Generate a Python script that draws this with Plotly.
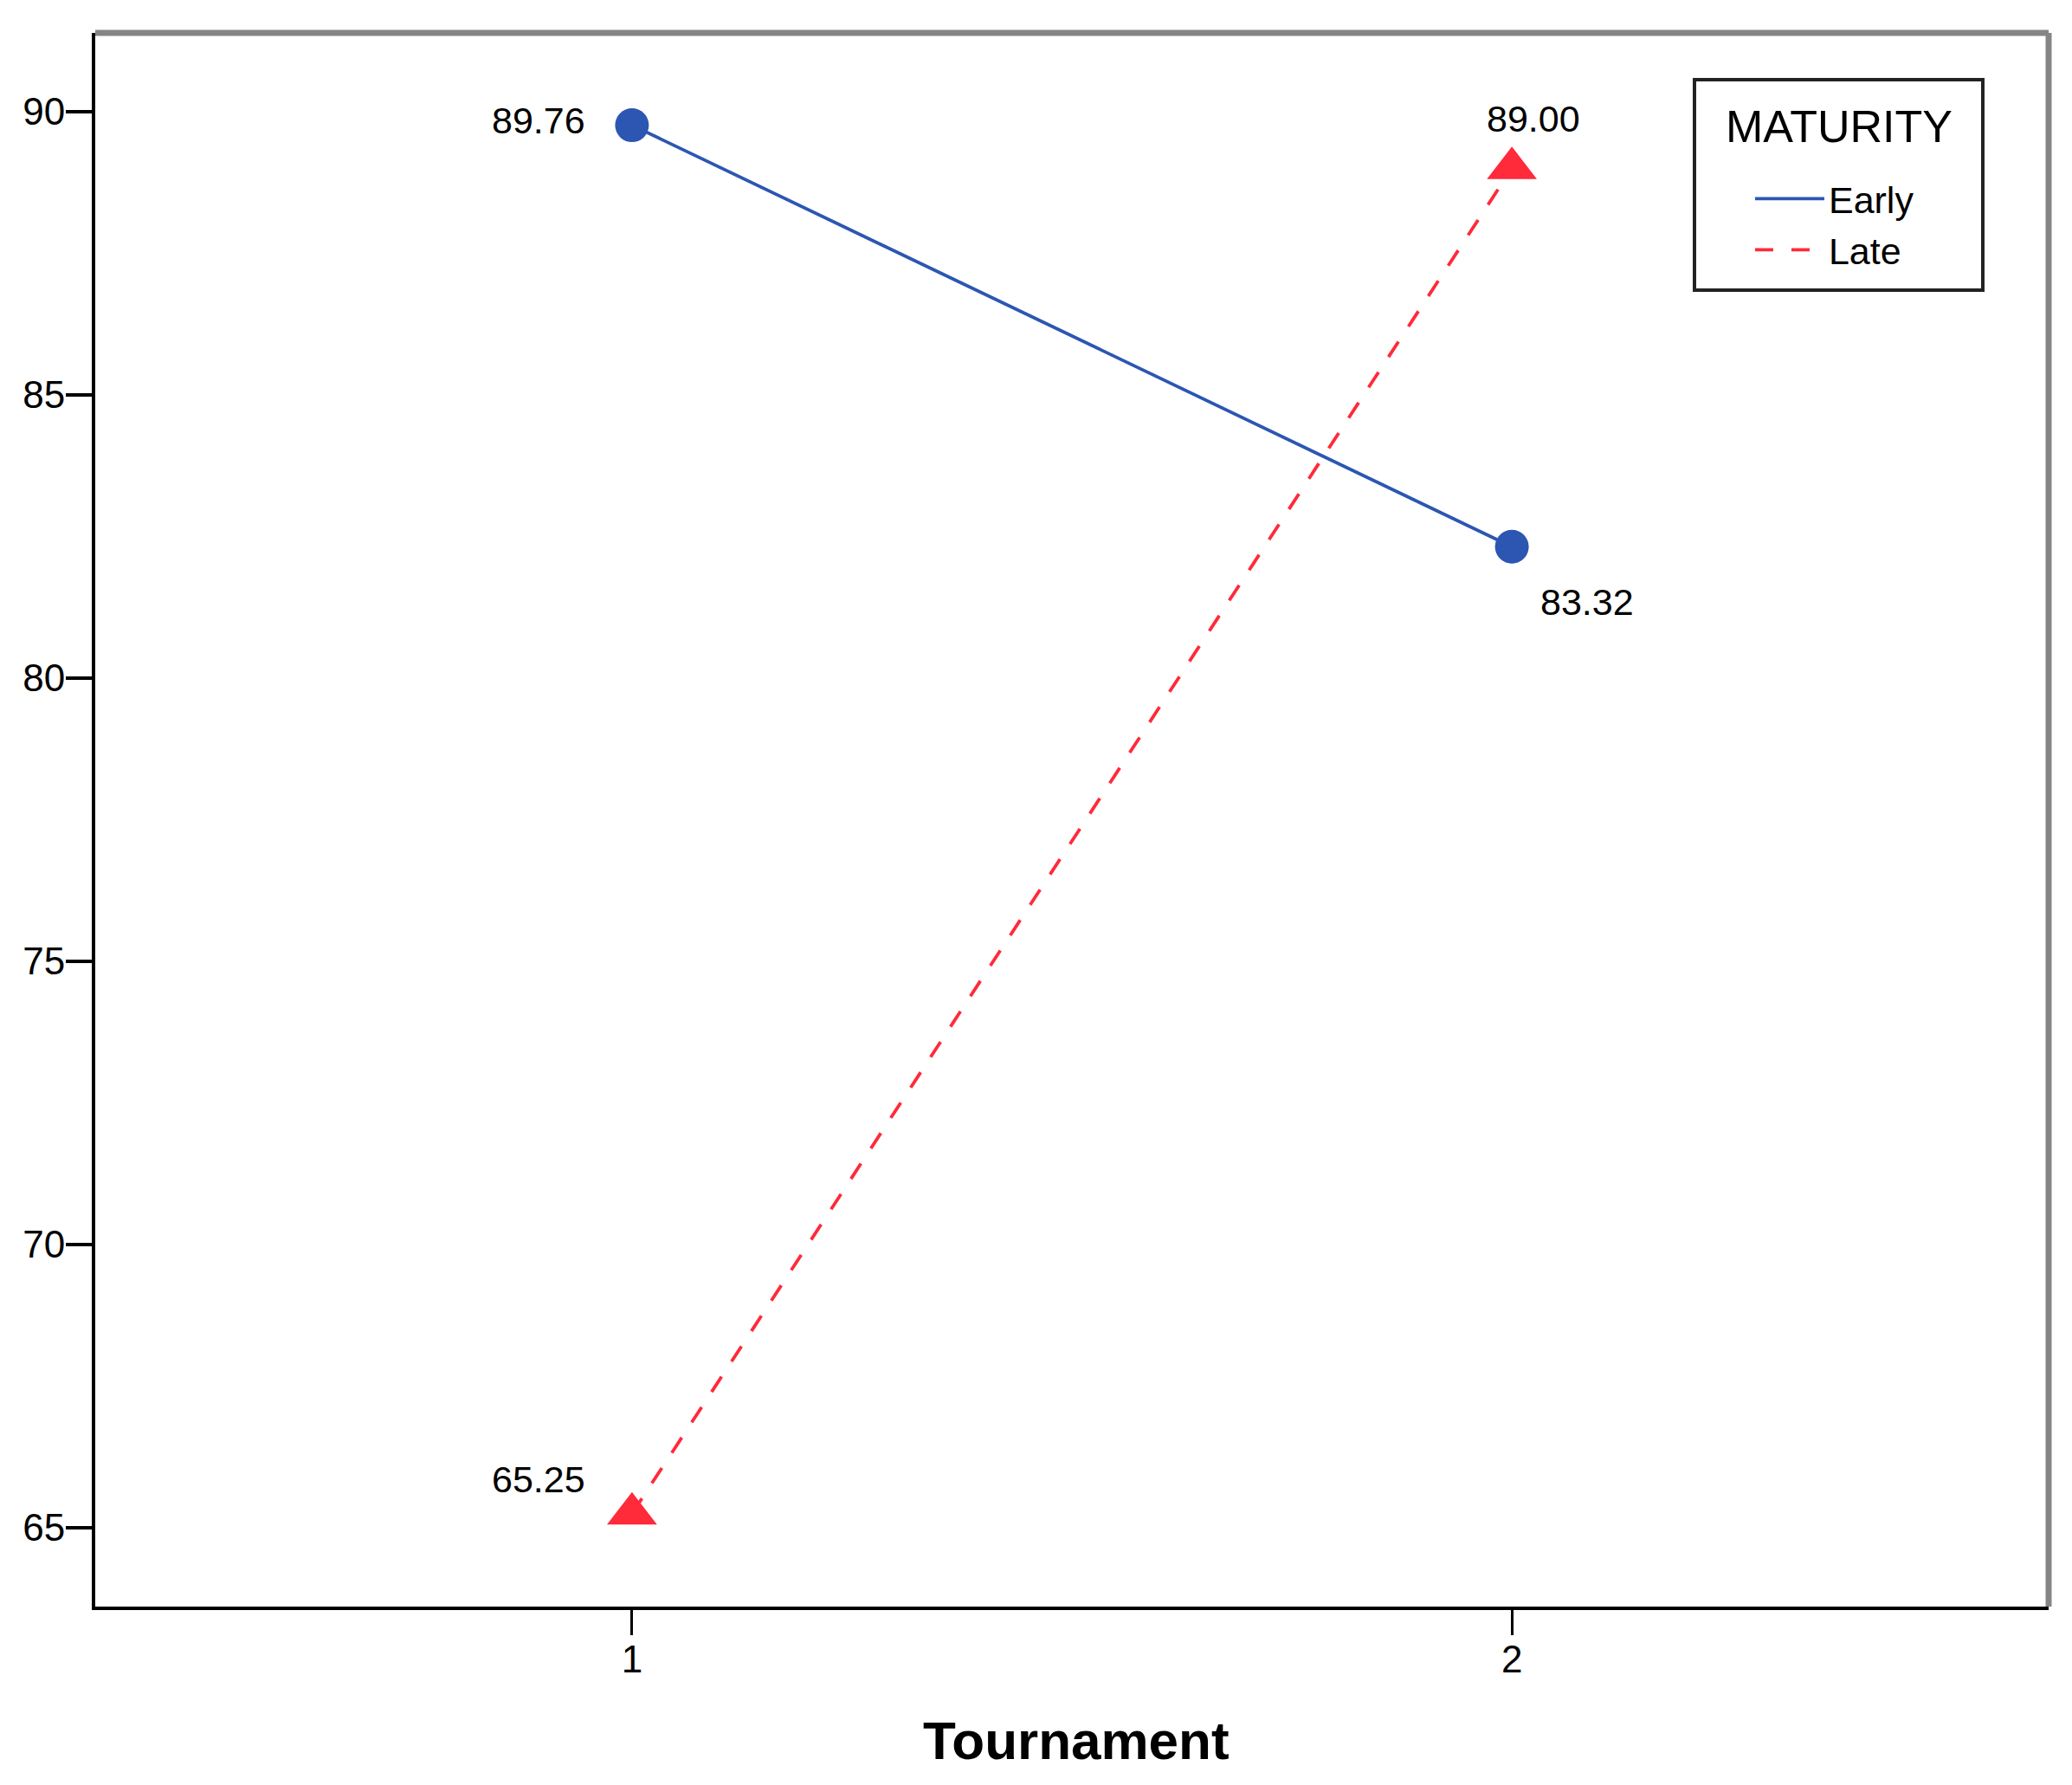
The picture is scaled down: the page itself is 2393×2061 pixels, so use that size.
import plotly.graph_objects as go

# ---- data ----
tournament = [1, 2]
early = [89.76, 82.32]
late = [65.25, 89.00]
early_labels = ["89.76", "83.32"]
late_labels = ["65.25", "89.00"]
y_ticks = [65, 70, 75, 80, 85, 90]
x_ticks = [1, 2]
x_tick_text = ["1", "2"]
legend_title = "MATURITY"

# ---- styles ----
BLUE = "#2C56B2"
RED = "#FF2A3A"
FONT = "Liberation Sans, Arial, sans-serif"
early_shift = [(-108, 6), (87, -64)]
late_shift = [(-108, 40), (25, 57)]

fig = go.Figure()

fig.add_trace(go.Scatter(x=tournament, y=early, mode="lines", name="Early",
                         line=dict(color=BLUE, width=3.8)))
fig.add_trace(go.Scatter(x=tournament, y=late, mode="lines", name="Late",
                         line=dict(color=RED, width=3.8, dash="21px,21px")))
fig.add_trace(go.Scatter(x=tournament, y=early, mode="markers", showlegend=False,
                         marker=dict(symbol="circle", size=39, color=BLUE)))
fig.add_trace(go.Scatter(x=tournament, y=late, mode="markers", showlegend=False,
                         marker=dict(symbol="triangle-up", size=50, color=RED)))

annotations = []
for xv, yv, txt, (dx, dy) in zip(tournament, early, early_labels, early_shift):
    annotations.append(dict(x=xv, y=yv, xref="x", yref="y", text=txt, showarrow=False,
                            xanchor="center", yanchor="middle", xshift=dx, yshift=dy,
                            font=dict(size=43, color="black", family=FONT)))
for xv, yv, txt, (dx, dy) in zip(tournament, late, late_labels, late_shift):
    annotations.append(dict(x=xv, y=yv, xref="x", yref="y", text=txt, showarrow=False,
                            xanchor="center", yanchor="middle", xshift=dx, yshift=dy,
                            font=dict(size=43, color="black", family=FONT)))
annotations.append(dict(x=0.502, y=-0.0853, xref="paper", yref="paper", text="<b>Tournament</b>",
                        showarrow=False, xanchor="center", yanchor="middle",
                        font=dict(size=62, color="black", family=FONT)))
annotations.append(dict(x=0.8927, y=0.9406, xref="paper", yref="paper", text=legend_title,
                        showarrow=False, xanchor="center", yanchor="middle",
                        font=dict(size=52, color="black", family=FONT)))

fig.update_layout(
    width=2393, height=2061,
    margin=dict(l=110, r=27, t=38, b=206, pad=0),
    paper_bgcolor="white", plot_bgcolor="white",
    font=dict(family=FONT, color="black"),
    showlegend=True,
    legend=dict(x=0.8475, y=0.9136, xanchor="left", yanchor="top",
                bgcolor="rgba(0,0,0,0)", borderwidth=0,
                font=dict(size=43, family=FONT, color="black"),
                itemwidth=80, tracegroupgap=0),
    annotations=annotations,
    shapes=[
        dict(type="line", xref="paper", yref="paper", x0=0, x1=1, y0=1, y1=1,
             line=dict(color="#858585", width=7)),
        dict(type="line", xref="paper", yref="paper", x0=1, x1=1, y0=0, y1=1,
             line=dict(color="#858585", width=7)),
        dict(type="rect", xref="paper", yref="paper", x0=0.8187, x1=0.9663,
             y0=0.8365, y1=0.9703, line=dict(color="#222222", width=4),
             fillcolor="white", layer="below"),
    ],
)

fig.update_xaxes(range=[0.39, 2.61], tickvals=x_ticks, ticktext=x_tick_text,
                 ticks="outside", ticklen=29, tickwidth=3, tickcolor="black",
                 ticklabelstandoff=-10,
                 showgrid=False, zeroline=False, showline=True, linecolor="black",
                 linewidth=4, tickfont=dict(size=44, family=FONT, color="black"))
fig.update_yaxes(range=[63.61, 91.39], tickvals=y_ticks,
                 ticks="outside", ticklen=30, tickwidth=4, tickcolor="black",
                 ticklabelstandoff=-8,
                 showgrid=False, zeroline=False, showline=True, linecolor="black",
                 linewidth=4, tickfont=dict(size=44, family=FONT, color="black"))

fig.write_html("out.html", config={"displayModeBar": False},
               post_script="document.body.style.margin='0';")
